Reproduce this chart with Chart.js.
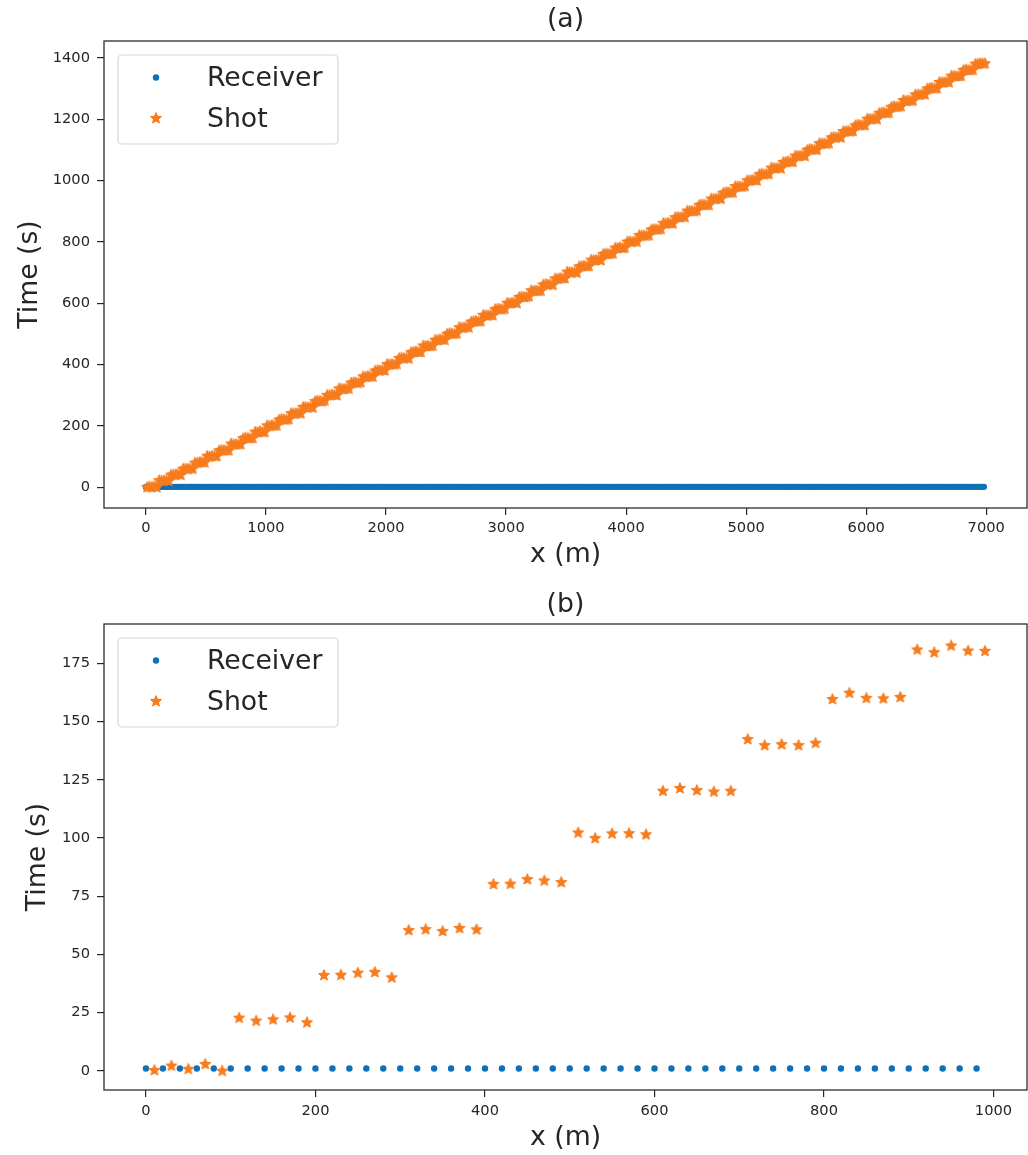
<!DOCTYPE html>
<html>
<head>
<meta charset="utf-8">
<title>Receiver and shot times</title>
<script src="https://cdn.jsdelivr.net/npm/chart.js@4.4.0/dist/chart.umd.min.js"></script>
<style>
  body { margin: 0; background: #fff; }
  .panel { position: absolute; left: 0; }
  #wrapA { top: 0; }
  #wrapB { top: 583px; }
</style>
</head>
<body>
<div id="wrapA" class="panel"><canvas id="chartA" width="1028" height="583"></canvas></div>
<div id="wrapB" class="panel"><canvas id="chartB" width="1028" height="572"></canvas></div>
<script>
// receiver stations (m) and their recorded times (s)
const receiverX = [
  0,20,40,60,80,100,120,140,160,180,200,220,240,260,280,300,320,340,360,380,400,420,440,460,480,
  500,520,540,560,580,600,620,640,660,680,700,720,740,760,780,800,820,840,860,880,900,920,940,960,980,
  1000,1020,1040,1060,1080,1100,1120,1140,1160,1180,1200,1220,1240,1260,1280,1300,1320,1340,1360,1380,1400,1420,1440,1460,1480,
  1500,1520,1540,1560,1580,1600,1620,1640,1660,1680,1700,1720,1740,1760,1780,1800,1820,1840,1860,1880,1900,1920,1940,1960,1980,
  2000,2020,2040,2060,2080,2100,2120,2140,2160,2180,2200,2220,2240,2260,2280,2300,2320,2340,2360,2380,2400,2420,2440,2460,2480,
  2500,2520,2540,2560,2580,2600,2620,2640,2660,2680,2700,2720,2740,2760,2780,2800,2820,2840,2860,2880,2900,2920,2940,2960,2980,
  3000,3020,3040,3060,3080,3100,3120,3140,3160,3180,3200,3220,3240,3260,3280,3300,3320,3340,3360,3380,3400,3420,3440,3460,3480,
  3500,3520,3540,3560,3580,3600,3620,3640,3660,3680,3700,3720,3740,3760,3780,3800,3820,3840,3860,3880,3900,3920,3940,3960,3980,
  4000,4020,4040,4060,4080,4100,4120,4140,4160,4180,4200,4220,4240,4260,4280,4300,4320,4340,4360,4380,4400,4420,4440,4460,4480,
  4500,4520,4540,4560,4580,4600,4620,4640,4660,4680,4700,4720,4740,4760,4780,4800,4820,4840,4860,4880,4900,4920,4940,4960,4980,
  5000,5020,5040,5060,5080,5100,5120,5140,5160,5180,5200,5220,5240,5260,5280,5300,5320,5340,5360,5380,5400,5420,5440,5460,5480,
  5500,5520,5540,5560,5580,5600,5620,5640,5660,5680,5700,5720,5740,5760,5780,5800,5820,5840,5860,5880,5900,5920,5940,5960,5980,
  6000,6020,6040,6060,6080,6100,6120,6140,6160,6180,6200,6220,6240,6260,6280,6300,6320,6340,6360,6380,6400,6420,6440,6460,6480,
  6500,6520,6540,6560,6580,6600,6620,6640,6660,6680,6700,6720,6740,6760,6780,6800,6820,6840,6860,6880,6900,6920,6940,6960,6980
];
const receiverT = [
  1,1,1,1,1,1,1,1,1,1,1,1,1,1,1,1,1,1,1,1,1,1,1,1,1,
  1,1,1,1,1,1,1,1,1,1,1,1,1,1,1,1,1,1,1,1,1,1,1,1,1,
  1,1,1,1,1,1,1,1,1,1,1,1,1,1,1,1,1,1,1,1,1,1,1,1,1,
  1,1,1,1,1,1,1,1,1,1,1,1,1,1,1,1,1,1,1,1,1,1,1,1,1,
  1,1,1,1,1,1,1,1,1,1,1,1,1,1,1,1,1,1,1,1,1,1,1,1,1,
  1,1,1,1,1,1,1,1,1,1,1,1,1,1,1,1,1,1,1,1,1,1,1,1,1,
  1,1,1,1,1,1,1,1,1,1,1,1,1,1,1,1,1,1,1,1,1,1,1,1,1,
  1,1,1,1,1,1,1,1,1,1,1,1,1,1,1,1,1,1,1,1,1,1,1,1,1,
  1,1,1,1,1,1,1,1,1,1,1,1,1,1,1,1,1,1,1,1,1,1,1,1,1,
  1,1,1,1,1,1,1,1,1,1,1,1,1,1,1,1,1,1,1,1,1,1,1,1,1,
  1,1,1,1,1,1,1,1,1,1,1,1,1,1,1,1,1,1,1,1,1,1,1,1,1,
  1,1,1,1,1,1,1,1,1,1,1,1,1,1,1,1,1,1,1,1,1,1,1,1,1,
  1,1,1,1,1,1,1,1,1,1,1,1,1,1,1,1,1,1,1,1,1,1,1,1,1,
  1,1,1,1,1,1,1,1,1,1,1,1,1,1,1,1,1,1,1,1,1,1,1,1,1
];

// shot positions (m) and shot times (s)
const shotX = [
  10,30,50,70,90,110,130,150,170,190,210,230,250,270,290,310,330,350,370,390,410,430,450,470,490,
  510,530,550,570,590,610,630,650,670,690,710,730,750,770,790,810,830,850,870,890,910,930,950,970,990,
  1010,1030,1050,1070,1090,1110,1130,1150,1170,1190,1210,1230,1250,1270,1290,1310,1330,1350,1370,1390,1410,1430,1450,1470,1490,
  1510,1530,1550,1570,1590,1610,1630,1650,1670,1690,1710,1730,1750,1770,1790,1810,1830,1850,1870,1890,1910,1930,1950,1970,1990,
  2010,2030,2050,2070,2090,2110,2130,2150,2170,2190,2210,2230,2250,2270,2290,2310,2330,2350,2370,2390,2410,2430,2450,2470,2490,
  2510,2530,2550,2570,2590,2610,2630,2650,2670,2690,2710,2730,2750,2770,2790,2810,2830,2850,2870,2890,2910,2930,2950,2970,2990,
  3010,3030,3050,3070,3090,3110,3130,3150,3170,3190,3210,3230,3250,3270,3290,3310,3330,3350,3370,3390,3410,3430,3450,3470,3490,
  3510,3530,3550,3570,3590,3610,3630,3650,3670,3690,3710,3730,3750,3770,3790,3810,3830,3850,3870,3890,3910,3930,3950,3970,3990,
  4010,4030,4050,4070,4090,4110,4130,4150,4170,4190,4210,4230,4250,4270,4290,4310,4330,4350,4370,4390,4410,4430,4450,4470,4490,
  4510,4530,4550,4570,4590,4610,4630,4650,4670,4690,4710,4730,4750,4770,4790,4810,4830,4850,4870,4890,4910,4930,4950,4970,4990,
  5010,5030,5050,5070,5090,5110,5130,5150,5170,5190,5210,5230,5250,5270,5290,5310,5330,5350,5370,5390,5410,5430,5450,5470,5490,
  5510,5530,5550,5570,5590,5610,5630,5650,5670,5690,5710,5730,5750,5770,5790,5810,5830,5850,5870,5890,5910,5930,5950,5970,5990,
  6010,6030,6050,6070,6090,6110,6130,6150,6170,6190,6210,6230,6250,6270,6290,6310,6330,6350,6370,6390,6410,6430,6450,6470,6490,
  6510,6530,6550,6570,6590,6610,6630,6650,6670,6690,6710,6730,6750,6770,6790,6810,6830,6850,6870,6890,6910,6930,6950,6970,6990
];
const shotT = [
  0.4,2.3,0.9,3.0,0.1, 22.9,21.6,22.2,23.0,20.9,
  41.2,41.3,42.2,42.5,40.2, 60.5,60.9,60.1,61.4,60.8,
  80.3,80.4,82.4,81.8,81.1, 102.4,100.0,102.0,102.1,101.6,
  120.3,121.5,120.6,120.0,120.3, 142.5,139.9,140.3,139.9,140.9,
  159.7,162.4,160.2,160.0,160.6, 181.0,179.8,182.7,180.5,180.4,
  201.8,200.4,202.6,200.9,201.3, 220.2,222.9,221.1,220.6,222.0,
  241.5,240.3,240.8,242.7,241.0, 262.2,261.4,260.1,261.9,260.5,
  280.7,282.5,281.2,280.2,282.8, 301.1,300.6,302.3,301.7,300.3,
  322.4,321.0,320.5,322.1,321.6, 340.9,342.2,341.4,340.1,342.9,
  361.6,360.4,362.7,361.2,360.8, 380.3,381.8,380.9,382.4,381.1,
  402.0,400.7,401.5,400.2,402.6, 421.3,422.8,420.6,421.9,420.4,
  440.5,441.7,442.9,440.8,441.2, 462.3,460.9,461.4,460.2,462.1,
  481.0,480.3,482.5,481.7,480.8, 500.6,502.4,501.2,500.1,501.9,
  521.8,520.5,520.9,522.6,521.3, 540.2,541.4,542.8,540.7,541.6,
  562.1,561.0,560.4,561.8,560.9, 580.8,582.3,581.5,580.2,582.7,
  601.4,600.3,601.9,602.5,600.7, 620.5,621.7,620.2,621.3,622.9,
  642.4,640.8,641.6,640.1,641.2, 661.0,662.6,660.7,662.0,660.4,
  680.9,680.2,682.3,681.4,681.8, 702.7,701.3,700.6,701.9,700.2,
  720.4,721.1,722.5,720.8,721.6, 741.9,740.3,741.2,742.8,740.6,
  760.6,762.1,760.9,761.5,762.4, 781.3,780.5,782.6,780.1,781.7,
  800.8,801.9,800.3,802.2,801.0, 822.5,820.7,821.4,820.2,821.8,
  840.3,842.0,841.1,840.6,842.7, 861.7,860.4,862.2,861.0,860.8,
  880.6,881.3,880.1,882.4,881.9, 902.1,900.9,901.6,900.3,902.8,
  920.7,922.3,921.2,920.5,921.0, 941.4,940.2,940.9,942.6,941.1,
  960.3,961.8,962.4,960.7,961.5, 982.0,980.6,981.3,980.1,982.5,
  1001.2,1000.4,1002.7,1001.8,1000.9, 1020.8,1022.1,1020.3,1021.5,1022.6,
  1042.3,1041.0,1040.5,1041.9,1040.2, 1060.6,1060.9,1062.8,1061.3,1061.7,
  1081.5,1080.2,1081.1,1082.4,1080.7, 1100.4,1102.6,1101.8,1100.9,1101.2,
  1122.0,1120.5,1121.4,1120.1,1122.3, 1140.7,1141.6,1140.3,1142.9,1141.0,
  1161.3,1160.8,1162.2,1160.4,1161.9, 1180.2,1182.5,1181.0,1181.6,1180.7,
  1201.9,1200.6,1201.3,1202.7,1200.3, 1220.9,1221.4,1222.6,1220.2,1221.8,
  1240.5,1242.1,1240.8,1241.3,1242.4, 1262.6,1260.3,1261.7,1260.9,1261.2,
  1281.1,1280.7,1280.2,1282.3,1281.5, 1300.4,1301.9,1302.8,1300.6,1301.3,
  1321.6,1320.2,1321.0,1322.5,1320.8, 1342.2,1341.3,1340.5,1340.9,1342.0,
  1360.7,1362.4,1361.1,1360.3,1361.8, 1381.4,1380.6,1382.9,1381.9,1382.3
];

// the zoomed panel shows only the first kilometre
const zoomCount = 50;

const xTicksA = [0, 1000, 2000, 3000, 4000, 5000, 6000, 7000];
const yTicksA = [0, 200, 400, 600, 800, 1000, 1200, 1400];
const xTicksB = [0, 200, 400, 600, 800, 1000];
const yTicksB = [0, 25, 50, 75, 100, 125, 150, 175];

const BLUE = '#0e70b6';
const ORANGE = '#f67c1e';
const INK = '#262626';
const FONT = '"DejaVu Sans", sans-serif';

function makeStar(r, color) {
  const size = Math.ceil(r * 2 + 2);
  const c = document.createElement('canvas');
  c.width = size;
  c.height = size;
  const g = c.getContext('2d');
  const cx = size / 2, cy = size / 2 + 0.4;
  g.beginPath();
  for (let i = 0; i < 10; i++) {
    const rad = i % 2 === 0 ? r : r * 0.45;
    const a = -Math.PI / 2 + i * Math.PI / 5;
    g.lineTo(cx + rad * Math.cos(a), cy + rad * Math.sin(a));
  }
  g.closePath();
  g.fillStyle = color;
  g.fill();
  g.lineJoin = 'round';
  g.strokeStyle = color;
  g.lineWidth = 1;
  g.stroke();
  return c;
}
const starMark = makeStar(5.8, ORANGE);

// axes box on all four sides, plus the panel heading
const frame = {
  id: 'frame',
  afterDraw(chart, args, opts) {
    const { ctx, chartArea: a } = chart;
    ctx.save();
    ctx.strokeStyle = INK;
    ctx.lineWidth = 1.25;
    ctx.strokeRect(a.left, a.top, a.right - a.left, a.bottom - a.top);
    ctx.font = '26.7px ' + FONT;
    ctx.fillStyle = INK;
    ctx.textAlign = 'center';
    ctx.textBaseline = 'middle';
    ctx.fillText(opts.heading, (a.left + a.right) / 2, opts.headingY);
    ctx.restore();
  }
};

// boxed legend in the upper left corner
const cornerLegend = {
  id: 'cornerLegend',
  afterDraw(chart) {
    const { ctx, chartArea: a } = chart;
    const x0 = a.left + 14, y0 = a.top + 14;
    const rows = [y0 + 22.5, y0 + 63];
    ctx.save();
    ctx.beginPath();
    ctx.roundRect(x0, y0, 220, 89, 4);
    ctx.fillStyle = 'rgba(255,255,255,0.8)';
    ctx.fill();
    ctx.strokeStyle = '#d5d5d5';
    ctx.lineWidth = 1.2;
    ctx.stroke();

    ctx.fillStyle = BLUE;
    ctx.beginPath();
    ctx.arc(x0 + 38, rows[0], 3.2, 0, Math.PI * 2);
    ctx.fill();
    ctx.drawImage(starMark, x0 + 38 - starMark.width / 2, rows[1] - starMark.height / 2);

    ctx.font = '26.7px ' + FONT;
    ctx.fillStyle = INK;
    ctx.textBaseline = 'middle';
    chart.data.datasets.forEach((ds, i) => ctx.fillText(ds.label, x0 + 89, rows[i] + 2));
    ctx.restore();
  }
};

function makePanel(id, p) {
  const recv = receiverX.slice(0, p.count).map((x, i) => ({ x, y: receiverT[i] }));
  const shots = shotX.slice(0, p.count).map((x, i) => ({ x, y: shotT[i] }));
  const tickFont = { family: FONT, size: 14.67 };
  const labelFont = { family: FONT, size: 26.7 };
  const grid = { drawOnChartArea: false, drawTicks: true, tickLength: 7, color: INK, lineWidth: 1.2 };

  return new Chart(document.getElementById(id), {
    type: 'scatter',
    data: {
      datasets: [
        { label: 'Receiver', data: recv, order: 1, backgroundColor: BLUE, borderColor: BLUE,
          pointRadius: 3.2, pointBorderWidth: 0 },
        { label: 'Shot', data: shots, order: 0, pointStyle: starMark, pointRadius: 5.8,
          backgroundColor: ORANGE, borderColor: ORANGE }
      ]
    },
    options: {
      responsive: false,
      animation: false,
      events: [],
      devicePixelRatio: 1,
      layout: { autoPadding: false, padding: { left: 0, right: 1, top: 41, bottom: 0 } },
      plugins: {
        legend: { display: false },
        tooltip: { enabled: false },
        title: { display: false },
        frame: { heading: p.title, headingY: p.headingY }
      },
      scales: {
        x: {
          type: 'linear', min: p.xMin, max: p.xMax,
          grid, border: { display: false },
          afterBuildTicks: (s) => { s.ticks = p.xTicks.map((v) => ({ value: v })); },
          afterFit: (s) => { s.height = p.xAxisH; s.paddingLeft = 0; s.paddingRight = 0; },
          ticks: { font: tickFont, color: INK, padding: p.xTickPad, maxRotation: 0, callback: (v) => String(v) },
          title: { display: true, text: 'x (m)', color: INK, font: labelFont, padding: { top: 0, bottom: p.xTitlePad } }
        },
        y: {
          type: 'linear', min: p.yMin, max: p.yMax,
          grid, border: { display: false },
          afterBuildTicks: (s) => { s.ticks = p.yTicks.map((v) => ({ value: v })); },
          afterFit: (s) => { s.width = 104; s.paddingTop = 0; s.paddingBottom = 0; },
          ticks: { font: tickFont, color: INK, padding: 7, callback: (v) => String(v) },
          title: { display: true, text: 'Time (s)', color: INK, font: labelFont, padding: { top: p.yTitlePad, bottom: 0 } }
        }
      }
    },
    plugins: [frame, cornerLegend]
  });
}

makePanel('chartA', {
  count: receiverX.length, title: '(a)', headingY: 20,
  xMin: -349.5, xMax: 7339.5, yMin: -68, yMax: 1455,
  xTicks: xTicksA, yTicks: yTicksA,
  xAxisH: 75, xTickPad: 4, xTitlePad: 12, yTitlePad: 14
});

makePanel('chartB', {
  count: zoomCount, title: '(b)', headingY: 22,
  xMin: -49.5, xMax: 1039.5, yMin: -8.2, yMax: 191.9,
  xTicks: xTicksB, yTicks: yTicksB,
  xAxisH: 65, xTickPad: 5, xTitlePad: 1, yTitlePad: 22
});
</script>
</body>
</html>
